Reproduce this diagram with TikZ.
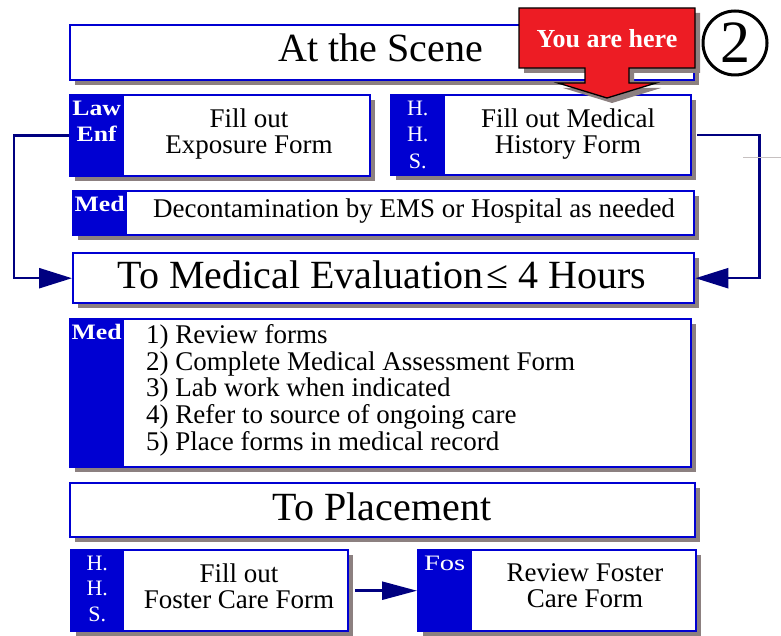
\documentclass[tikz,border=0pt]{standalone}
\usepackage{fontspec}
\setmainfont{Liberation Serif}
\newfontfamily\tagbf[FakeStretch=1.17]{Liberation Serif}
\newfontfamily\fosft[FakeStretch=1.3]{Liberation Serif}
\usetikzlibrary{arrows.meta,shadows,calc}
\definecolor{bxblue}{RGB}{0,0,210}
\definecolor{lnnavy}{RGB}{0,0,128}
\definecolor{shgray}{RGB}{140,128,128}
\definecolor{callred}{RGB}{237,28,36}
\tikzset{
  box/.style={draw=bxblue, line width=2.4pt, fill=white, inner sep=0pt, anchor=north west,
    general shadow={fill=shgray, shadow xshift=5pt, shadow yshift=-5pt}},
  tagbox/.style={draw=bxblue, fill=bxblue, line width=2.4pt, inner sep=0pt, anchor=north west},
  tagtxt/.style={text=white, inner sep=0pt, anchor=north, align=center, yshift=-6.5pt},
  title/.style={inner sep=0pt, anchor=base, font=\fontsize{40}{40}\selectfont},
  body/.style={inner sep=0pt, align=center, font=\fontsize{27}{26.3}\selectfont},
  conn/.style={draw=lnnavy, line width=2.5pt},
  tipA/.style={-{Triangle[length=33pt,width=20pt]}}
}
\begin{document}
\begin{tikzpicture}[x=1pt,y=-1pt]
\useasboundingbox (0,0) rectangle (781,636);

% At the Scene
\node[box, minimum width=624pt, minimum height=55pt] (scene) at (69,24) {};
\node[title] (scenetxt) at (381,62) {At the Scene};

% Law Enf box
\node[box, minimum width=300pt, minimum height=81pt] (law) at (69,94) {};
\node[tagbox, minimum width=53pt, minimum height=81pt] (lawtag) at (law.north west) {};
\node[tagtxt, font=\tagbf\bfseries\fontsize{22}{26}\selectfont] (lawlbl) at (lawtag.north) {Law\\Enf};
\node[body, anchor=north] (lawtxt) at (249,108.6) {Fill out\\Exposure Form};

% HHS box (top)
\node[box, minimum width=300pt, minimum height=80pt] (hhsa) at (390,94) {};
\node[tagbox, minimum width=53pt, minimum height=80pt] (hhsatag) at (hhsa.north west) {};
\node[tagtxt, font=\fontsize{22}{26.5}\selectfont] (hhsalbl) at (hhsatag.north) {H.\\H.\\S.};
\node[body, anchor=north] (hhsatxt) at (568,108.6) {Fill out Medical\\History Form};

% Decontamination
\node[box, minimum width=621pt, minimum height=44pt] (decon) at (72,190) {};
\node[tagbox, minimum width=53pt, minimum height=44pt] (decontag) at (decon.north west) {};
\node[tagtxt, font=\tagbf\bfseries\fontsize{22}{26}\selectfont] (deconlbl) at (decontag.north) {Med};
\node[body, anchor=base] (decontxt) at (414,218) {Decontamination by EMS or Hospital as needed};

% Medical evaluation
\node[box, minimum width=621pt, minimum height=50pt] (eval) at (72,252) {};
\node[title] (evaltxt) at (382,288) {To Medical Evaluation\kern3pt≤ 4 Hours};

% List box
\node[box, minimum width=621pt, minimum height=148pt] (list) at (69,318) {};
\node[tagbox, minimum width=53pt, minimum height=148pt] (listtag) at (list.north west) {};
\node[tagtxt, font=\tagbf\bfseries\fontsize{22}{26}\selectfont] (listlbl) at (listtag.north) {Med};
\node[body, anchor=north west, align=left, font=\fontsize{27}{26.7}\selectfont] (listtxt) at (146,324.3)
  {1) Review forms\\2) Complete Medical Assessment Form\\3) Lab work when indicated\\4) Refer to source of ongoing care\\5) Place forms in medical record};

% To Placement
\node[box, minimum width=625pt, minimum height=54pt] (place) at (69,482) {};
\node[title] (placetxt) at (382,520) {To Placement};

% HHS box (bottom)
\node[box, minimum width=277pt, minimum height=81pt] (hhsb) at (70,549) {};
\node[tagbox, minimum width=52pt, minimum height=81pt] (hhsbtag) at (hhsb.north west) {};
\node[tagtxt, font=\fontsize{22}{25.5}\selectfont] (hhsblbl) at (hhsbtag.north) {H.\\H.\\S.};
\node[body, anchor=north] (hhsbtxt) at (239,563.3) {Fill out\\Foster Care Form};

% Fos box
\node[box, minimum width=278pt, minimum height=81pt] (fos) at (417,549) {};
\node[tagbox, minimum width=53pt, minimum height=81pt] (fostag) at (fos.north west) {};
\node[tagtxt, font=\fosft\fontsize{22}{26}\selectfont] (foslbl) at (fostag.north) {Fos};
\node[body, anchor=north] (fostxt) at (585,563.6) {Review Foster\\Care Form};

% connectors
\draw[conn, tipA] (law.west) -- ++(-55,0) |- (eval.west);
\draw[conn, tipA, shorten <=5pt] (hhsa.east) -- ++(67,0) |- (eval.east);
\draw[conn, -{Triangle[length=35pt,width=18pt]}, shorten <=6pt] (hhsb.east) -- (fos.west);

% small gray mark
\draw[shgray!50, line width=1pt] (743,158) -- (781,158);

% You are here callout
\path[fill=callred, draw=black, line width=1.3pt,
      general shadow={fill=shgray, shadow xshift=5pt, shadow yshift=-5pt}]
  (519,8) -- (695,8) -- (695,68) -- (629,68) -- (629,83) -- (656,83) -- (607,98)
  -- (558,83) -- (585,83) -- (585,68) -- (519,68) -- cycle;
\node[inner sep=0pt, anchor=base, text=white, font=\bfseries\fontsize{26}{26}\selectfont] (here) at (607,48) {You are here};

% circled 2
\node[circle, draw=black, line width=3pt, minimum size=64pt, inner sep=0pt,
      font=\fontsize{60}{60}\selectfont] (two) at (735,43) {2};
\end{tikzpicture}
\end{document}
